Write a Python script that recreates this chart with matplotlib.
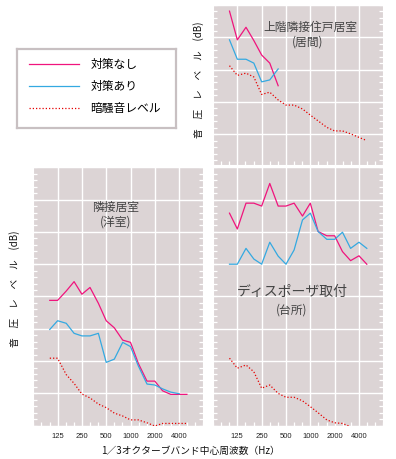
import matplotlib
matplotlib.use('Agg')
import matplotlib.pyplot as plt
from matplotlib.ticker import FixedLocator, NullFormatter, MultipleLocator

plt.rcParams['font.family'] = ['Noto Sans CJK JP', 'DejaVu Sans']

# 1/3 octave band centre frequencies (Hz)
bands = [100, 125, 160, 200, 250, 315, 400, 500, 630, 800, 1000, 1250,
         1600, 2000, 2500, 3150, 4000, 5000]
tick_freqs = [125, 250, 500, 1000, 2000, 4000]
tick_labels = ['125', '250', '500', '1000', '2000', '4000']

# upper floor room (living room)
upper_without = [78.1, 69.2, 73.1, 69.0, 64.5, 62.0, 55.0]
upper_with = [69.2, 63.2, 63.2, 62.0, 56.2, 56.8, 60.2]
upper_bg = [61.2, 58.2, 58.9, 57.7, 52.3, 53.0, 50.6, 49.0, 49.0, 47.8,
            45.9, 44.1, 42.1, 41.0, 41.0, 40.1, 39.0, 38.0]

# adjacent room (western style room)
adj_without = [48.8, 48.8, 51.7, 54.6, 50.7, 52.8, 47.9, 42.5, 40.3, 36.5,
               35.8, 29.3, 23.8, 23.8, 20.8, 19.7, 19.7, 19.7]
adj_with = [39.8, 42.5, 41.7, 38.6, 37.8, 37.8, 38.6, 29.6, 30.6, 35.8,
            34.5, 28.5, 22.9, 22.6, 21.4, 20.4, 19.9]
adj_bg = [30.9, 30.9, 25.8, 23.1, 19.8, 18.6, 16.7, 15.6, 13.9, 13.0,
          11.8, 11.8, 10.9, 9.9, 10.7, 10.7, 10.7, 10.7]

# disposer room (kitchen)
kit_without = [75.8, 70.9, 78.9, 78.9, 78.0, 85.0, 78.0, 78.0, 78.9, 74.9,
               78.9, 70.1, 68.8, 68.8, 63.9, 61.1, 62.6, 60.0]
kit_with = [60.0, 60.0, 64.9, 61.6, 60.0, 66.8, 62.5, 60.0, 64.4, 73.7,
            75.8, 70.1, 67.7, 67.7, 69.9, 64.9, 66.8, 64.9]
kit_bg = [30.9, 27.8, 28.8, 26.7, 21.6, 22.6, 20.0, 18.8, 18.8, 17.7,
          15.9, 14.0, 11.8, 10.9, 10.7, 9.7]

c_without = '#F0147D'
c_with = '#34A9E1'
c_bg = '#E60000'
panel_bg = '#DCD4D5'
dotted = (0, (1, 1.6))

W, H = 396, 459
fig = plt.figure(figsize=(W / 100, H / 100), dpi=100)


def px_axes(x0, y0, x1, y1):
    return fig.add_axes([x0 / W, 1 - y1 / H, (x1 - x0) / W, (y1 - y0) / H])


def style(ax, ylim, labels):
    ax.set_facecolor(panel_bg)
    ax.set_xscale('log', base=2)
    ax.set_xlim(62.5, 8000)
    ax.set_ylim(*ylim)
    ax.xaxis.set_major_locator(FixedLocator(tick_freqs))
    ax.xaxis.set_minor_locator(FixedLocator([62.5 * 2 ** (k / 3) for k in range(22)]))
    ax.xaxis.set_minor_formatter(NullFormatter())
    if labels:
        ax.set_xticklabels(tick_labels)
    else:
        ax.xaxis.set_major_formatter(NullFormatter())
    ax.yaxis.set_major_locator(MultipleLocator(10))
    ax.yaxis.set_minor_locator(MultipleLocator(2))
    ax.yaxis.set_major_formatter(NullFormatter())
    ax.grid(True, which='major', color='white', linewidth=1.0)
    ax.tick_params(which='both', direction='in', color='white', width=0.9)
    ax.tick_params(axis='x', which='major', length=0, pad=5, labelsize=5.5,
                   labelcolor='#222222')
    ax.tick_params(axis='x', which='minor', length=3)
    ax.tick_params(axis='y', which='both', length=3, left=True, right=True)
    for lab in ax.get_xticklabels():
        lab.set_family(['Liberation Sans', 'DejaVu Sans'])
    for s in ax.spines.values():
        s.set_color('white')
        s.set_linewidth(0.8)


ax_up = px_axes(213, 5, 383.3, 164.5)
ax_adj = px_axes(33.3, 167.3, 203.4, 425.7)
ax_kit = px_axes(213, 167.3, 383.3, 425.7)

style(ax_up, (30.6, 80), False)
style(ax_adj, (10, 90), True)
style(ax_kit, (10, 90), True)

l1, = ax_up.plot(bands[:len(upper_without)], upper_without, color=c_without, lw=0.9)
l2, = ax_up.plot(bands[:len(upper_with)], upper_with, color=c_with, lw=0.9)
l3, = ax_up.plot(bands, upper_bg, color=c_bg, lw=0.9, linestyle=dotted)

ax_adj.plot(bands, adj_without, color=c_without, lw=0.9)
ax_adj.plot(bands[:len(adj_with)], adj_with, color=c_with, lw=0.9)
ax_adj.plot(bands, adj_bg, color=c_bg, lw=0.9, linestyle=dotted)

ax_kit.plot(bands, kit_without, color=c_without, lw=0.9)
ax_kit.plot(bands, kit_with, color=c_with, lw=0.9)
ax_kit.plot(bands[:len(kit_bg)], kit_bg, color=c_bg, lw=0.9, linestyle=dotted)

txt = '#444444'
ax_up.text(0.57, 0.862, '上階隣接住戸居室', transform=ax_up.transAxes,
           ha='center', va='center', fontsize=8.5, color=txt)
ax_up.text(0.558, 0.768, '(居間)', transform=ax_up.transAxes,
           ha='center', va='center', fontsize=8.5, color=txt)
ax_adj.text(0.486, 0.846, '隣接居室', transform=ax_adj.transAxes,
            ha='center', va='center', fontsize=8.5, color=txt)
ax_adj.text(0.486, 0.788, '(洋室)', transform=ax_adj.transAxes,
            ha='center', va='center', fontsize=8.5, color=txt)
ax_kit.text(0.464, 0.517, 'ディスポーザ取付', transform=ax_kit.transAxes,
            ha='center', va='center', fontsize=10, color=txt)
ax_kit.text(0.464, 0.448, '(台所)', transform=ax_kit.transAxes,
            ha='center', va='center', fontsize=8.5, color=txt)

ylab = '音　圧　レ　ベ　ル　(dB)'
fig.text(199 / W, 1 - 80 / H, ylab, rotation=90, ha='center', va='center',
         fontsize=7, color='#111111')
fig.text(15 / W, 1 - 289 / H, ylab, rotation=90, ha='center', va='center',
         fontsize=7, color='#111111')
fig.text(190 / W, 1 - 451 / H, '1／3オクターブバンド中心周波数（Hz）',
         ha='center', va='center', fontsize=7, color='#111111')

# legend box
lax = px_axes(16.7, 49.3, 176, 128)
lax.set_xticks([])
lax.set_yticks([])
lax.set_facecolor('white')
for s in lax.spines.values():
    s.set_color('#C8C0C2')
    s.set_linewidth(1.6)
lax.legend([l1, l2, l3], ['対策なし', '対策あり', '暗騒音レベル'],
           loc='upper left', bbox_to_anchor=(0.01, 1.02), frameon=False,
           fontsize=8.5, handlelength=4.2, handletextpad=1.0,
           labelspacing=0.75)

fig.savefig('out.png', dpi=100)
